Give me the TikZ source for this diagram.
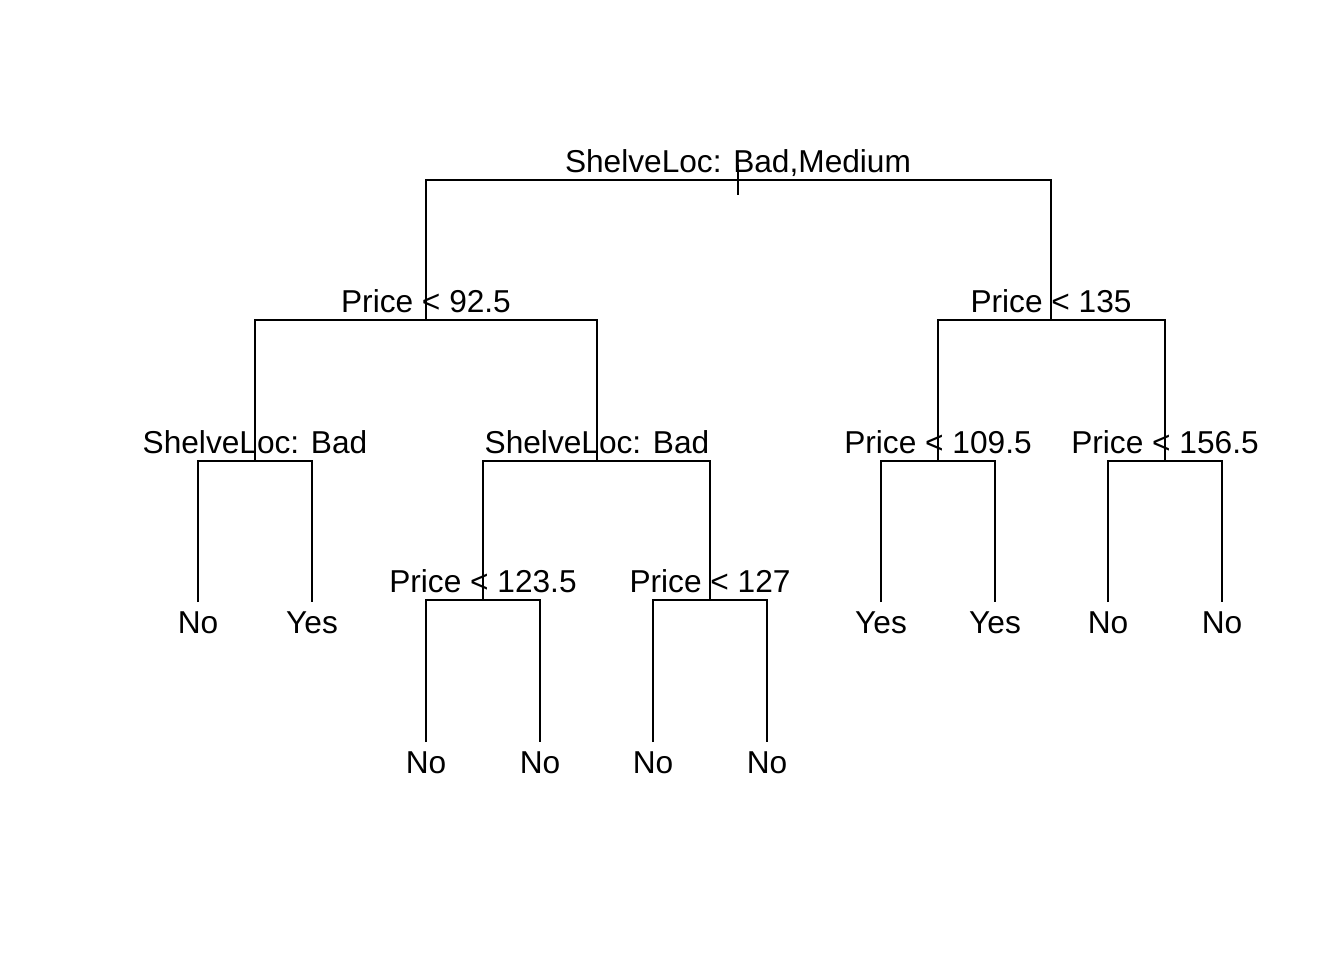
\documentclass[tikz,border=0pt]{standalone}
\usepackage{fontspec}
\setmainfont{Liberation Sans}
\usepackage{tikz}
\usetikzlibrary{calc,positioning}

\begin{document}
\begin{tikzpicture}[x=0.01cm,y=-0.01cm,line width=0.6pt,
    font=\fontsize{9}{11}\selectfont,
    splitlab/.style={inner sep=0pt,anchor=base,yshift=0.075cm},
    leaflab/.style={inner sep=0pt,anchor=base,yshift=-0.31cm}]
  \useasboundingbox (0,0) rectangle (1344,960);
  % split points
  \coordinate (root) at (738,180);
  \foreach \n/\x/\y in {n1/426/320,n2/1051/320,n3/255/461,n4/597/461,n5/938/461,
      n6/1165/461,n7/483/600,n8/710/600} {
    \coordinate (\n) at (\x,\y);
  }
  % leaf ends
  \foreach \n/\x/\y in {l1/198/602,l2/312/602,l3/426/742,l4/540/742,l5/653/742,
      l6/767/742,l7/881/602,l8/995/602,l9/1108/602,l10/1222/602} {
    \coordinate (\n) at (\x,\y);
  }
  % branches
  \foreach \p/\a/\b in {root/n1/n2,n1/n3/n4,n2/n5/n6,n3/l1/l2,n4/n7/n8,
      n5/l7/l8,n6/l9/l10,n7/l3/l4,n8/l5/l6} {
    \draw (\a) -- (\a |- \p) -- (\b |- \p) -- (\b);
  }
  \draw ($(root)+(0,-15)$) -- ($(root)+(0,15)$);
  % split labels
  \node[splitlab] (troot) at (root) {ShelveLoc: Bad,Medium};
  \node[splitlab] (t1) at (n1) {Price < 92.5};
  \node[splitlab] (t2) at (n2) {Price < 135};
  \node[splitlab] (t3) at (n3) {ShelveLoc: Bad};
  \node[splitlab] (t4) at (n4) {ShelveLoc: Bad};
  \node[splitlab] (t5) at (n5) {Price < 109.5};
  \node[splitlab] (t6) at (n6) {Price < 156.5};
  \node[splitlab] (t7) at (n7) {Price < 123.5};
  \node[splitlab] (t8) at (n8) {Price < 127};
  % leaf labels
  \foreach \n/\t in {l1/No,l2/Yes,l3/No,l4/No,l5/No,l6/No,l7/Yes,l8/Yes,l9/No,l10/No} {
    \node[leaflab] (t\n) at (\n) {\t};
  }
\end{tikzpicture}
\end{document}
